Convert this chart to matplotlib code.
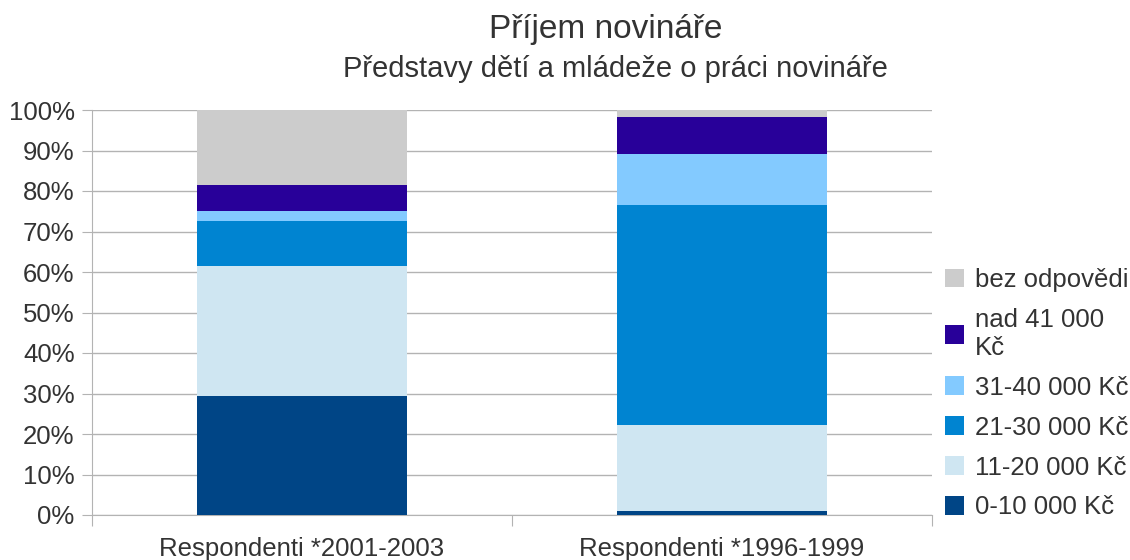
import matplotlib.pyplot as plt
import numpy as np

plt.rcParams['font.family'] = ['Liberation Sans', 'DejaVu Sans']

categories = ['Respondenti *2001-2003', 'Respondenti *1996-1999']
series_names = ['0-10 000 Kč', '11-20 000 Kč', '21-30 000 Kč', '31-40 000 Kč',
                'nad 41 000\nKč', 'bez odpovědi']
v_0_10 = [29.5, 1.0]
v_11_20 = [32.1, 21.2]
v_21_30 = [11.0, 54.3]
v_31_40 = [2.5, 12.6]
v_nad_41 = [6.4, 9.2]
v_bez = [18.5, 1.7]
colors = ['#004586', '#cfe6f2', '#0084d1', '#83caff', '#280099', '#cccccc']

values = [v_0_10, v_11_20, v_21_30, v_31_40, v_nad_41, v_bez]
text_color = '#333333'
grid_color = '#b3b3b3'
fs = 18.5

fig = plt.figure(figsize=(11.3, 5.6), dpi=100)
ax = fig.add_axes([92 / 1130, 45 / 560, 840 / 1130, 405 / 560])

x = np.arange(len(categories))
bottom = np.zeros(len(categories))
handles = []
for name, vals, col in zip(series_names, values, colors):
    h = ax.bar(x, vals, width=0.5, bottom=bottom, color=col, label=name, zorder=3)
    handles.append(h)
    bottom += np.array(vals)

ax.set_xlim(-0.5, 1.5)
ax.set_ylim(0, 100)
ax.set_yticks(np.arange(0, 101, 10))
ax.set_yticklabels([f'{t}%' for t in range(0, 101, 10)], fontsize=fs, color=text_color)
ax.yaxis.grid(True, color=grid_color, linewidth=1, zorder=0)

ax.set_xticks([-0.5, 0.5, 1.5])
ax.set_xticklabels([])
ax.set_xticks(x, minor=True)
ax.set_xticklabels(categories, minor=True, fontsize=fs, color=text_color)
ax.tick_params(axis='x', which='minor', length=0, pad=16)
ax.tick_params(axis='x', which='major', length=8, color=grid_color, direction='out')
ax.tick_params(axis='y', length=7.5, color=grid_color, pad=5)

for s in ['top', 'right']:
    ax.spines[s].set_visible(False)
for s in ['left', 'bottom']:
    ax.spines[s].set_color(grid_color)

fig.text(606 / 1130, 1 - 38 / 560, 'Příjem novináře', ha='center', va='baseline',
         fontsize=24, color=text_color)
fig.text(615 / 1130, 1 - 77 / 560, 'Představy dětí a mládeže o práci novináře', ha='center',
         va='baseline', fontsize=21, color=text_color)

fig.legend(handles[::-1], series_names[::-1], loc='upper left',
           bbox_to_anchor=(945 / 1130, 1 - 268 / 560),
           frameon=False, fontsize=fs, labelcolor=text_color, handlelength=0.75,
           handleheight=0.75, handletextpad=0.4, labelspacing=0.62, borderaxespad=0,
           borderpad=0)

fig.savefig('out.png', dpi=100)
